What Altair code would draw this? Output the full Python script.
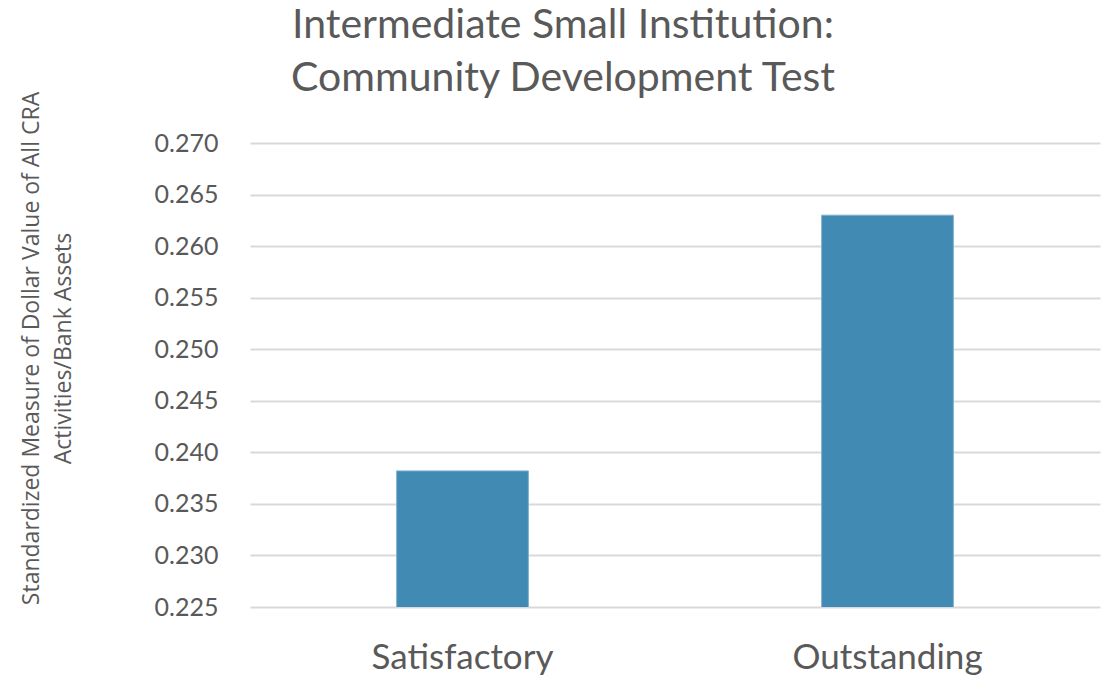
import altair as alt
import pandas as pd

ratings = ["Satisfactory", "Outstanding"]
values = [0.2382, 0.2630]
y_ticks = [0.225, 0.230, 0.235, 0.240, 0.245, 0.250, 0.255, 0.260, 0.265, 0.270]

df = pd.DataFrame({"rating": ratings, "value": values})

FONT = "Lato"
GREY = "#595959"

bars = alt.Chart(df).mark_bar(color="#418ab3", stroke="#7fb0cf", strokeWidth=1, clip=True).encode(
    x=alt.X(
        "rating:N",
        sort=ratings,
        scale=alt.Scale(paddingInner=0.69, paddingOuter=0.345),
        axis=alt.Axis(
            title=None, labelAngle=0, labelFontSize=35, labelColor=GREY,
            labelFont=FONT, labelPadding=33, labelLimit=400,
            domain=False, ticks=False,
        ),
    ),
    y=alt.Y(
        "value:Q",
        scale=alt.Scale(domain=[0.225, 0.270], zero=False, nice=False),
        axis=alt.Axis(
            values=y_ticks, format=".3f",
            title=["Standardized Measure of Dollar Value of All CRA", "Activities/Bank Assets"],
            titleFont="Open Sans", titleFontWeight="normal", titleFontSize=23,
            titleColor=GREY, titleX=-230, titleY=205, titleAngle=-90,
            titleAlign="center", titleBaseline="top", titleLineHeight=32,
            labelFont=FONT, labelFontSize=25, labelColor=GREY, labelPadding=32,
            domain=False, ticks=False,
            gridColor="#d9d9d9", gridWidth=2,
        ),
    ),
)

chart = bars.properties(
    width=850,
    height=464,
    background="white",
    title=alt.TitleParams(
        ["Intermediate Small Institution:", "Community Development Test"],
        font=FONT, fontSize=41, fontWeight="normal", color=GREY,
        anchor="middle", dx=-112, dy=45, offset=36, lineHeight=53,
    ),
    autosize=alt.AutoSizeParams(type="none"),
    padding={"left": 250, "top": 143, "right": 9, "bottom": 71},
).configure_view(strokeWidth=0, stroke="transparent")

chart.save("out.html", embed_options={"renderer": "svg", "actions": False})
